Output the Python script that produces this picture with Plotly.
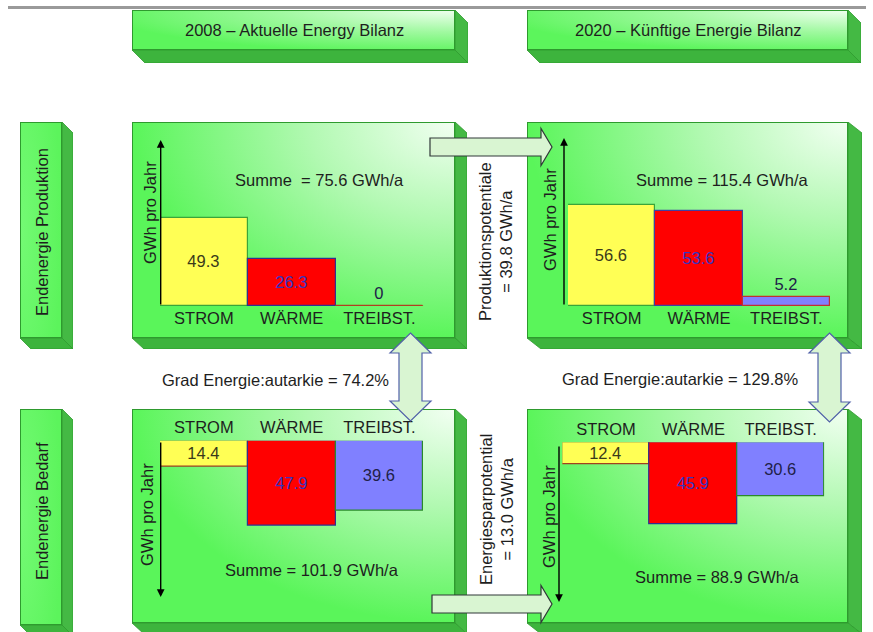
import base64
import plotly.graph_objects as go

# Canvas size in pixels
W, H = 873, 632

# ---- data -------------------------------------------------------------
categories = ["STROM", "WÄRME", "TREIBST."]
prod_2008 = [49.3, 26.3, 0.0]      # Endenergie Produktion 2008 (GWh/a)
prod_2020 = [56.6, 53.6, 5.2]      # Endenergie Produktion 2020 (GWh/a)
bedarf_2008 = [14.4, 47.9, 39.6]   # Endenergie Bedarf 2008 (GWh/a)
bedarf_2020 = [12.4, 45.9, 30.6]   # Endenergie Bedarf 2020 (GWh/a)

header_titles = ["2008 – Aktuelle Energy Bilanz", "2020 – Künftige Energie Bilanz"]
row_titles = ["Endenergie Produktion", "Endenergie Bedarf"]
axis_title = "GWh pro Jahr"

# ---- styling ----------------------------------------------------------
FONT = "Liberation Sans, Arial, sans-serif"
FS = 16.5
TEXT = "#1e1e1e"
bar_fill = ["#ffff55", "#ff0000", "#8080ff"]
value_colors = ["#3a3a1a", "#3535c0", "#202048"]
PX_PER_UNIT = 1.78


def fx(x):
    return x / W


def fy(y):
    return 1 - y / H


def box_image(x, y, w, h, dx, dy, stops, cx=1.0, cy=0.0, r=1.0):
    """A bevelled green box (front face with radial gradient + two side faces)."""
    tw, th = w + dx, h + dy
    stop_xml = "".join(f"<stop offset='{o}' stop-color='{c}'/>" for o, c in stops)
    svg = (
        f"<svg xmlns='http://www.w3.org/2000/svg' width='{tw}' height='{th}' "
        f"viewBox='0 0 {tw} {th}'>"
        f"<defs><radialGradient id='g' cx='{cx}' cy='{cy}' r='{r}'>{stop_xml}"
        f"</radialGradient></defs>"
        f"<polygon points='{w},0 {tw},{dy} {tw},{th} {w},{h}' fill='#44b944' "
        f"stroke='#2e9a2e' stroke-width='0.8'/>"
        f"<polygon points='0,{h} {dx},{th} {tw},{th} {w},{h}' fill='#3db43d' "
        f"stroke='#2e9a2e' stroke-width='0.8'/>"
        f"<rect x='0.5' y='0.5' width='{w - 1}' height='{h - 1}' fill='url(#g)' "
        f"stroke='#2e9a2e' stroke-width='1'/>"
        "</svg>"
    )
    src = "data:image/svg+xml;base64," + base64.b64encode(svg.encode()).decode()
    return dict(source=src, xref="paper", yref="paper", x=fx(x), y=fy(y),
                sizex=tw / W, sizey=th / H, xanchor="left", yanchor="top",
                sizing="stretch", layer="below")


panel_stops = [(0, "#f2fff2"), (0.45, "#b2f9b2"), (1, "#5af55a")]
header_stops = [(0, "#eeffee"), (0.5, "#a0f9a0"), (1, "#5cf55c")]
row_stops = [(0, "#74fa74"), (1, "#5cf45c")]

images = [
    box_image(132, 10, 323, 40, 13, 13, header_stops, r=1.1),
    box_image(527, 10, 321, 40, 13, 13, header_stops, r=1.1),
    box_image(20, 122, 42, 216, 11, 11, row_stops, cx=0, cy=0.5, r=1.0),
    box_image(20, 409, 42, 216, 11, 11, row_stops, cx=0, cy=0.5, r=1.0),
    box_image(132, 122, 323, 216, 12, 11, panel_stops),
    box_image(527, 122, 321, 216, 14, 11, panel_stops),
    box_image(132, 409, 323, 214, 12, 11, panel_stops),
    box_image(527, 409, 321, 214, 14, 11, panel_stops),
]

# ---- bar panels: (values, x-left, x-right, base y, far y, hanging, borders, text pos)
panels = [
    (prod_2008, 160.0, 423.3, 306.0, 140.0, False,
     ["#3aa53a", "#303090", "#b04020"], ["inside", "inside", "outside"]),
    (prod_2020, 568.0, 830.0, 306.0, 138.0, False,
     ["#3aa53a", "#4040a0", "#c03030"], ["inside", "inside", "outside"]),
    (bedarf_2008, 160.0, 423.3, 440.7, 597.0, True,
     ["#a04020", "#303090", "#2a8a2a"], ["inside", "inside", "inside"]),
    (bedarf_2020, 562.3, 824.3, 442.3, 602.0, True,
     ["#a04020", "#303090", "#2a8a2a"], ["inside", "inside", "inside"]),
]

fig = go.Figure()
layout_axes = {}
shapes = []
annotations = []

for k, (vals, xl, xr, base, far, hanging, borders, tpos) in enumerate(panels, start=1):
    xa = "x" if k == 1 else f"x{k}"
    ya = "y" if k == 1 else f"y{k}"
    span = abs(far - base) / PX_PER_UNIT
    fig.add_trace(go.Bar(
        x=categories, y=vals, xaxis=xa, yaxis=ya, width=1,
        marker=dict(color=bar_fill, line=dict(color=borders, width=1.2)),
        text=[f"{v:g}" for v in vals], textposition=tpos,
        insidetextanchor="middle", constraintext="none", cliponaxis=False,
        textfont=dict(family=FONT, size=FS, color=value_colors),
        hoverinfo="skip",
    ))
    layout_axes["xaxis" if k == 1 else f"xaxis{k}"] = dict(
        domain=[fx(xl), fx(xr)], anchor=ya, range=[-0.5, 2.5],
        side="top" if hanging else "bottom",
        showgrid=False, zeroline=False, showline=False, ticks="",
        ticklabelstandoff=3 if hanging else 0,
        tickfont=dict(family=FONT, size=FS, color=TEXT), fixedrange=True,
    )
    if hanging:
        ydom = [fy(far), fy(base)]
        yrange = [span, 0]
    else:
        ydom = [fy(base), fy(far)]
        yrange = [0, span]
    layout_axes["yaxis" if k == 1 else f"yaxis{k}"] = dict(
        domain=ydom, anchor=xa, range=yrange, visible=False, fixedrange=True,
    )
    # zero-valued categories are shown as a thin line on the baseline
    for i, v in enumerate(vals):
        if v == 0:
            shapes.append(dict(type="line", xref=xa, yref=ya, x0=i - 0.5, x1=i + 0.5,
                               y0=0, y1=0, line=dict(color=borders[i], width=1.5)))

# axis arrows (x, tip y, tail y)
axis_arrows = [(160.7, 140, 306), (564, 138, 306), (160.7, 597, 441), (559, 602, 445)]
for ax_x, tip_y, tail_y in axis_arrows:
    annotations.append(dict(
        xref="paper", yref="paper", x=fx(ax_x), y=fy(tip_y), text="",
        showarrow=True, ax=0, ay=tail_y - tip_y, arrowhead=2, arrowsize=1.1,
        arrowwidth=1.4, arrowcolor="#000000", standoff=0, startstandoff=0,
    ))

# ---- derived totals --------------------------------------------------
sum_p08, sum_p20 = sum(prod_2008), sum(prod_2020)
sum_b08, sum_b20 = sum(bedarf_2008), sum(bedarf_2020)
autarkie_08 = sum_p08 / sum_b08 * 100
autarkie_20 = sum_p20 / sum_b20 * 100
pot_prod = sum_p20 - sum_p08
pot_spar = sum_b08 - sum_b20


def label(x, y, text, angle=0, size=FS, color=TEXT):
    annotations.append(dict(
        xref="paper", yref="paper", x=fx(x), y=fy(y), text=text, showarrow=False,
        textangle=angle, xanchor="center", yanchor="middle", align="center",
        font=dict(family=FONT, size=size, color=color),
    ))


label(294, 30, header_titles[0])
label(688, 30, header_titles[1])
label(42, 232, row_titles[0], angle=-90)
label(42, 511, row_titles[1], angle=-90)

label(319, 180, f"Summe  = {sum_p08:.1f} GWh/a")
label(722, 180, f"Summe = {sum_p20:.1f} GWh/a")
label(312, 570, f"Summe = {sum_b08:.1f} GWh/a")
label(717, 577, f"Summe = {sum_b20:.1f} GWh/a")

label(275, 380, f"Grad Energie:autarkie = {autarkie_08:.1f}%")
label(680, 379, f"Grad Energie:autarkie = {autarkie_20:.1f}%")

label(495, 242, f"Produktionspotentiale<br>= {pot_prod:.1f} GWh/a", angle=-90)
label(496, 510, f"Energiesparpotential<br>= {pot_spar:.1f} GWh/a", angle=-90)

label(150, 213, axis_title, angle=-90)
label(550, 220, axis_title, angle=-90)
label(147, 515, axis_title, angle=-90)
label(549, 517, axis_title, angle=-90)

# ---- decorative arrows ----------------------------------------------


def poly(pts, fill, stroke, width=1.2):
    path = "M " + " L ".join(f"{fx(x):.5f},{fy(y):.5f}" for x, y in pts) + " Z"
    return dict(type="path", xref="paper", yref="paper", path=path,
                fillcolor=fill, line=dict(color=stroke, width=width), layer="above")


def h_arrow(x0, tip_x, yc, body=9, head=18.5, head_len=11):
    hb = tip_x - head_len
    return [(x0, yc - body), (hb, yc - body), (hb, yc - head), (tip_x, yc),
            (hb, yc + head), (hb, yc + body), (x0, yc + body)]


def v_double_arrow(cx, top, bottom, shaft=11.5, head=20.5, head_len=20):
    return [(cx, top), (cx + head, top + head_len), (cx + shaft, top + head_len),
            (cx + shaft, bottom - head_len), (cx + head, bottom - head_len),
            (cx, bottom), (cx - head, bottom - head_len), (cx - shaft, bottom - head_len),
            (cx - shaft, top + head_len), (cx - head, top + head_len)]


ARROW_FILL = "#d9f5d2"
shapes.append(poly(h_arrow(430, 552, 147), ARROW_FILL, "#303838"))
shapes.append(poly(h_arrow(432, 552, 604), ARROW_FILL, "#303838"))
shapes.append(poly(v_double_arrow(410.5, 333, 421), ARROW_FILL, "#5060a8"))
shapes.append(poly(v_double_arrow(829.5, 333, 422), ARROW_FILL, "#5060a8"))

# thin grey rule across the top
shapes.append(dict(type="line", xref="paper", yref="paper", x0=fx(8), x1=fx(866),
                   y0=fy(7.5), y1=fy(7.5), line=dict(color="#9a9a9a", width=3)))

fig.update_layout(
    width=W, height=H, margin=dict(l=0, r=0, t=0, b=0),
    paper_bgcolor="#ffffff", plot_bgcolor="rgba(0,0,0,0)",
    showlegend=False, bargap=0,
    uniformtext=dict(minsize=FS, mode="show"),
    font=dict(family=FONT, size=FS, color=TEXT),
    images=images, shapes=shapes, annotations=annotations,
    **layout_axes,
)

fig.write_html("out.html")
